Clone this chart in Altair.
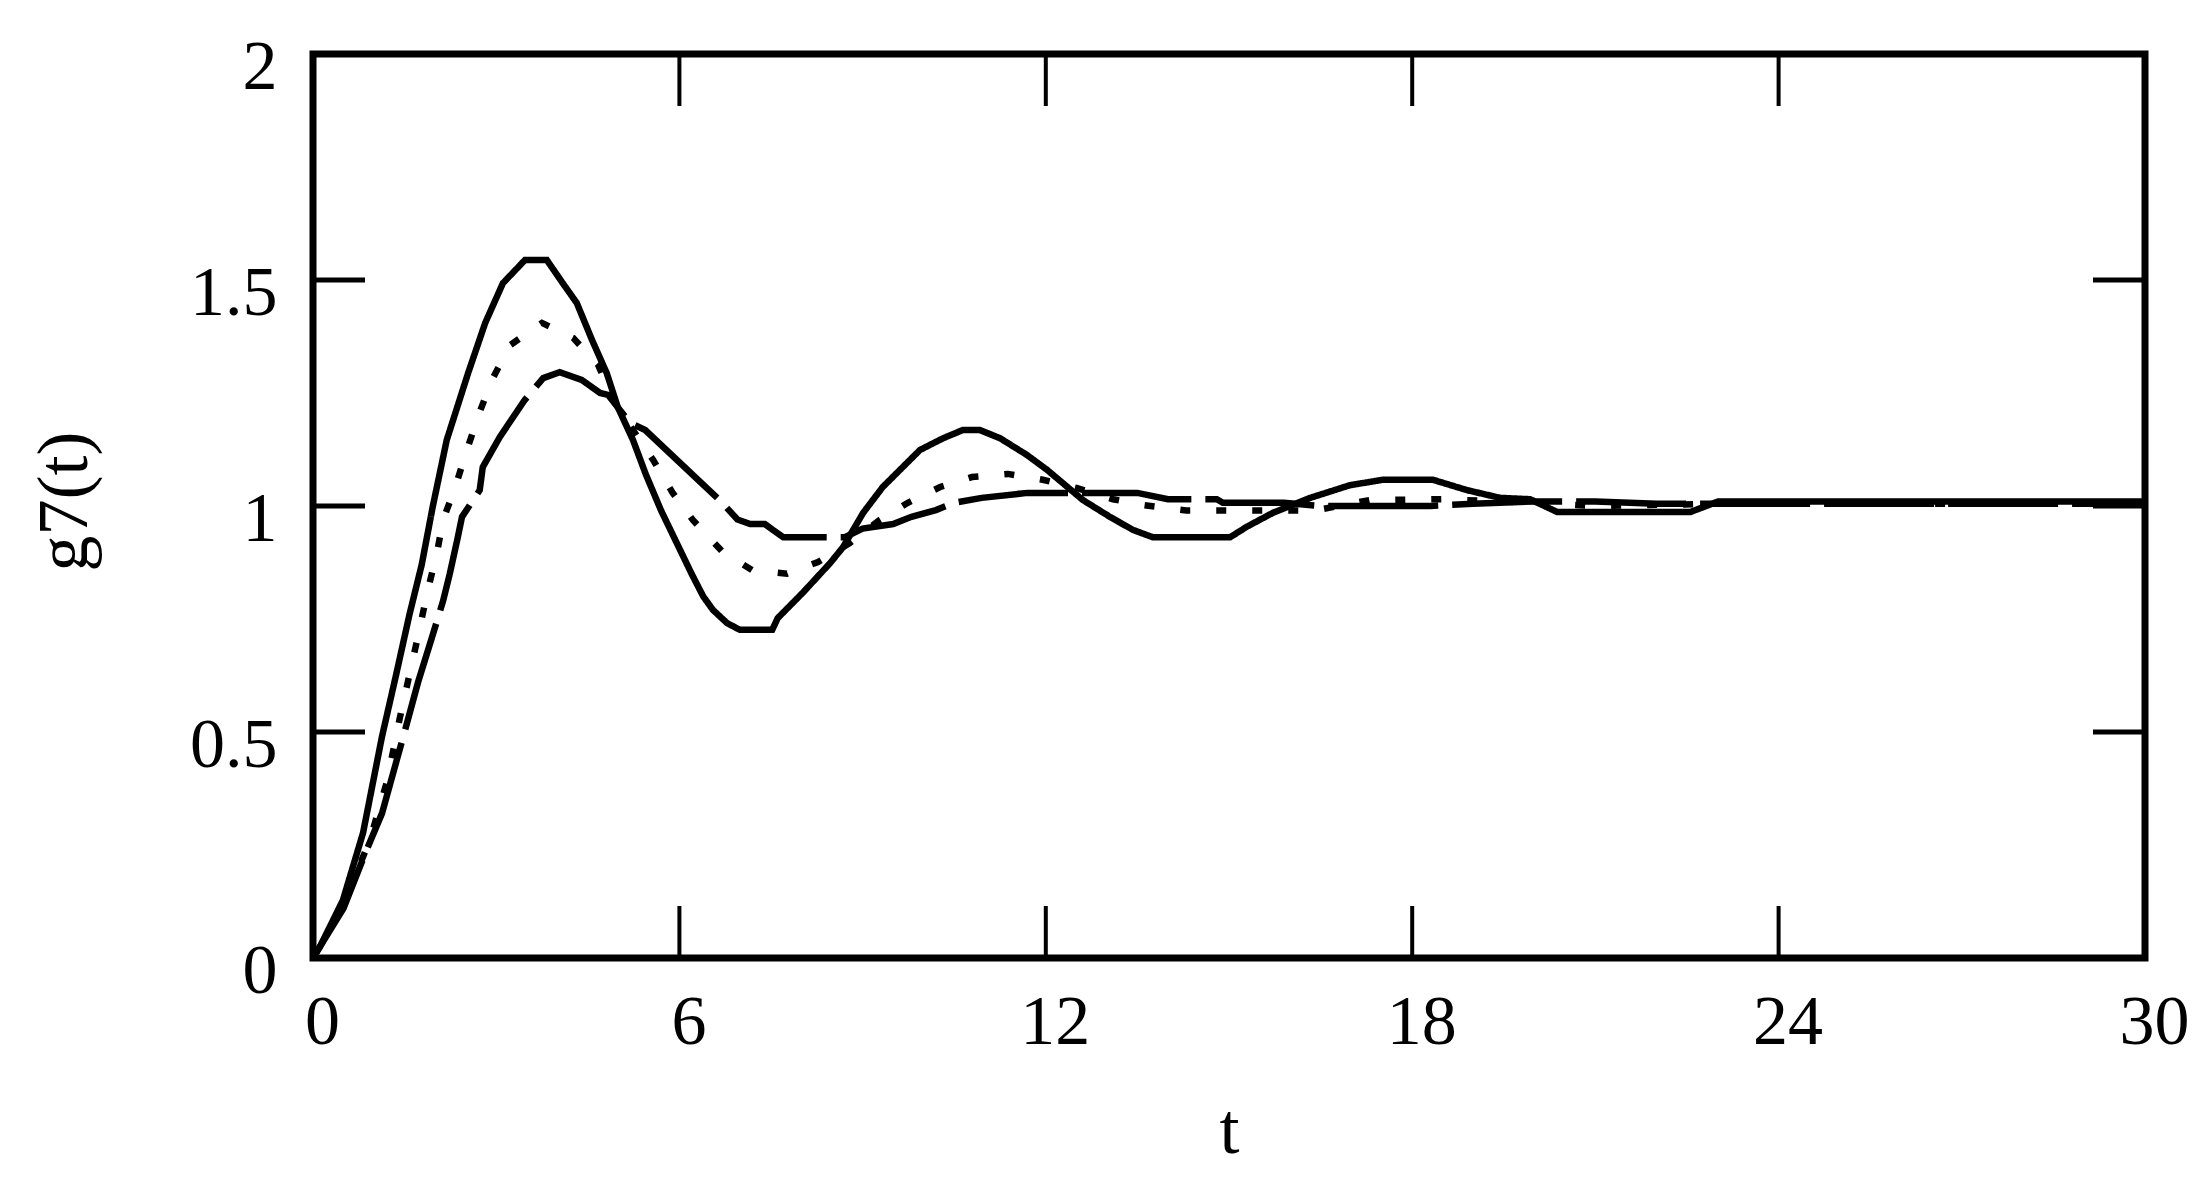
import altair as alt
import pandas as pd

# ---- data ----
solid_t = [0, 0.11, 0.33, 0.49, 0.82, 1.13, 1.35, 1.58, 1.78, 1.96, 2.19, 2.54, 2.82, 3.11, 3.47,
           3.83, 4.09, 4.32, 4.57, 4.81, 4.99, 5.24, 5.45, 5.70, 5.95, 6.20, 6.39, 6.55, 6.78,
           6.99, 7.52, 7.61, 8.02, 8.47, 8.68, 9.01, 9.33, 9.94, 10.32, 10.64, 10.92, 11.25,
           11.69, 12.02, 12.61, 13.05, 13.43, 13.75, 15.02, 15.29, 15.72, 16.33, 16.98, 17.52,
           18.34, 18.90, 19.44, 19.93, 20.37, 22.56, 23.01, 30]
solid_g = [0, 0.024, 0.084, 0.128, 0.277, 0.49, 0.62, 0.76, 0.87, 0.998, 1.146, 1.294, 1.405,
           1.493, 1.544, 1.544, 1.493, 1.449, 1.367, 1.294, 1.219, 1.146, 1.07, 0.99, 0.92,
           0.85, 0.80, 0.77, 0.741, 0.726, 0.726, 0.752, 0.808, 0.874, 0.909, 0.985, 1.042,
           1.124, 1.150, 1.168, 1.168, 1.150, 1.113, 1.080, 1.013, 0.976, 0.947, 0.931, 0.931,
           0.954, 0.985, 1.018, 1.046, 1.058, 1.058, 1.035, 1.018, 1.015, 0.987, 0.987, 1.010,
           1.010]

dotted_t = [0, 0.5, 0.93, 1.21, 1.42, 1.7, 1.88, 2.03, 2.13, 2.33, 2.52, 2.73, 2.93, 3.23, 3.75,
            4.26, 4.67, 4.91, 5.24, 5.57, 5.89, 6.22, 6.71, 7.19, 7.76, 8.27, 8.79, 9.28, 9.74,
            10.27, 10.79, 11.38, 11.95, 12.5, 13.1, 13.6, 14.3, 15.6, 16.4, 17.3, 18.5, 19.5,
            21, 23, 30]
dotted_g = [0, 0.12, 0.26, 0.39, 0.53, 0.70, 0.814, 0.896, 0.969, 1.042, 1.124, 1.208, 1.279,
            1.356, 1.405, 1.372, 1.312, 1.235, 1.168, 1.102, 1.029, 0.969, 0.898, 0.858, 0.850,
            0.876, 0.918, 0.969, 1.007, 1.042, 1.064, 1.071, 1.058, 1.04, 1.015, 1.002, 0.99,
            0.99, 0.99, 1.013, 1.015, 1.01, 1.0, 1.005, 1.005]

dashed_t = [0, 0.5, 0.85, 1.13, 1.56, 1.72, 1.95, 2.13, 2.24, 2.37, 2.44, 2.73, 2.78, 3.06, 3.47,
            3.77, 4.04, 4.40, 4.70, 4.83, 5.19, 5.44, 6.66, 6.95, 7.16, 7.40, 7.53, 7.70, 8.71,
            9.0, 9.5, 9.8, 10.2, 10.5, 10.95, 11.7, 13.5, 14.0, 14.8, 14.9, 15.9, 16.5, 18.3,
            19.0, 20.0, 21.0, 22.0, 30]
dashed_g = [0, 0.11, 0.23, 0.32, 0.53, 0.61, 0.71, 0.79, 0.85, 0.93, 0.976, 1.035, 1.086, 1.153,
            1.235, 1.283, 1.296, 1.279, 1.25, 1.246, 1.184, 1.168, 1.013, 0.97, 0.96, 0.96,
            0.947, 0.931, 0.931, 0.95, 0.96, 0.976, 0.991, 1.007, 1.018, 1.029, 1.029, 1.015,
            1.015, 1.007, 1.007, 1.0, 1.0, 1.005, 1.01, 1.01, 1.005, 1.005]

x_ticks = [0, 6, 12, 18, 24, 30]
y_ticks = [0, 0.5, 1, 1.5, 2]

# ---- build table ----
rows = []
for name, ts, gs in [("solid", solid_t, solid_g), ("dotted", dotted_t, dotted_g),
                     ("dashed", dashed_t, dashed_g)]:
    for i, (t, g) in enumerate(zip(ts, gs)):
        rows.append({"series": name, "t": t, "g": g, "i": i})
df = pd.DataFrame(rows)
xt = pd.DataFrame({"t": x_ticks})
yt = pd.DataFrame({"g": y_ticks})

W, H = 1832, 904
FONT = "Liberation Serif"
TL = 52

xscale = alt.Scale(domain=[0, 30], nice=False, zero=False)
yscale = alt.Scale(domain=[0, 2], nice=False, zero=False)

xaxis = alt.Axis(values=x_ticks, ticks=False, domain=False, grid=False,
                 labelPadding=30, labelOffset=9, labelBaseline="top",
                 labelFlush=False, labelOverlap=False,
                 titleY=172, titleBaseline="middle")
yaxis = alt.Axis(values=y_ticks, ticks=False, domain=False, grid=False, format="~g",
                 labelPadding=36, labelOffset=13, labelBaseline="middle",
                 labelFlush=False, labelOverlap=False,
                 titleX=-249, titleY=447, titleAngle=-90,
                 titleAlign="center", titleBaseline="middle")

X = lambda: alt.X("t:Q", scale=xscale, title="t", axis=xaxis)
Y = lambda: alt.Y("g:Q", scale=yscale, title="g7(t)", axis=yaxis)

lines = alt.Chart(df).mark_line(color="black", strokeWidth=6.5, clip=True).encode(
    x=X(),
    y=Y(),
    strokeDash=alt.StrokeDash("series:N", legend=None,
                              scale=alt.Scale(domain=["solid", "dotted", "dashed"],
                                              range=[[1, 0], [10, 26], [110, 14]])),
    detail="series:N",
    order="i:Q",
)

bottom = alt.Chart(xt).mark_rule(color="black", strokeWidth=4).encode(
    x=X(), y=alt.value(H), y2=alt.value(H - TL))
top = alt.Chart(xt).mark_rule(color="black", strokeWidth=4).encode(
    x=X(), y=alt.value(0), y2=alt.value(TL))
left = alt.Chart(yt).mark_rule(color="black", strokeWidth=5).encode(
    y=Y(), x=alt.value(0), x2=alt.value(TL))
right = alt.Chart(yt).mark_rule(color="black", strokeWidth=5).encode(
    y=Y(), x=alt.value(W - TL), x2=alt.value(W))

chart = alt.layer(lines, bottom, top, left, right).properties(
    width=W, height=H,
    autosize=alt.AutoSizeParams(type="none"),
    padding={"left": 305, "top": 46, "right": 55, "bottom": 220},
).configure_view(
    stroke="black", strokeWidth=7
).configure_axis(
    labelFont=FONT, labelFontSize=70, labelColor="black",
    titleFont=FONT, titleFontSize=72, titleFontWeight="normal", titleColor="black",
)

chart.save("out.html", embed_options={"renderer": "svg", "actions": False})
